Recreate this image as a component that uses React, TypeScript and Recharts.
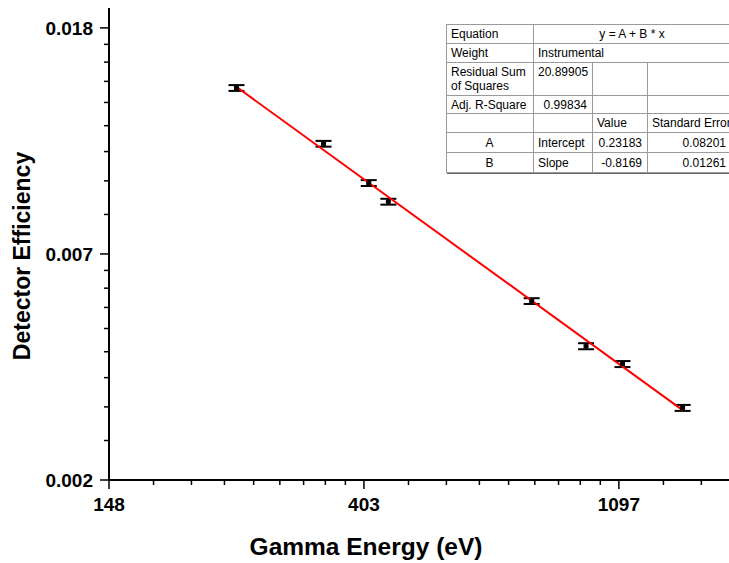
import { ComposedChart, XAxis, YAxis, Scatter, Line, ErrorBar, Customized } from 'recharts'

// Eu-152 calibration lines and measured efficiencies
const ENERGY = [244.7, 344.3, 411.1, 444.0, 778.9, 964.1, 1112.1, 1408.0]
const EFFICIENCY = [0.01404, 0.01097, 0.00922, 0.00849, 0.00547, 0.00448, 0.00414, 0.00341]
const EFF_ERROR = [0.00018, 0.00014, 0.00012, 0.00011, 0.00007, 0.00006, 0.000055, 0.000045]

// fit of ln(eff) = A + B * ln(E)
const FIT_A = 0.23183
const FIT_B = -0.8169

const X_MAJOR_EXP = [5, 6, 7]
const X_TICK_LABELS = ['148', '403', '1097']
const Y_MAJOR_EXP = [-6, -5, -4]
const Y_TICK_LABELS = ['0.002', '0.007', '0.018']

const X_DOMAIN = [Math.exp(5), 1900]
const Y_DOMAIN = [Math.exp(-6), 0.02]

const FONT = '"Liberation Sans", Arial, sans-serif'

const points = ENERGY.map((energy, i) => ({ energy, eff: EFFICIENCY[i], err: EFF_ERROR[i] }))

const fitEnds = [ENERGY[0], ENERGY[ENERGY.length - 1]]
const fitLine = fitEnds.map(energy => ({ energy, eff: Math.exp(FIT_A + FIT_B * Math.log(energy)) }))

// 8 linear minor ticks inside each e-decade
function withMinor(exps: number[], lo: number, hi: number) {
  const out: number[] = []
  exps.forEach(e => {
    const a = Math.exp(e)
    const b = Math.exp(e + 1)
    out.push(a)
    for (let k = 1; k <= 8; k++) out.push(a + (k * (b - a)) / 9)
  })
  return out.filter(v => v >= lo - 1e-12 && v <= hi)
}

const xMajor = X_MAJOR_EXP.map(e => Math.exp(e))
const yMajor = Y_MAJOR_EXP.map(e => Math.exp(e))
const xTicks = withMinor(X_MAJOR_EXP, X_DOMAIN[0], X_DOMAIN[1])
const yTicks = withMinor(Y_MAJOR_EXP, Y_DOMAIN[0], Y_DOMAIN[1])

const majorIndex = (list: number[], v: number) => list.findIndex(m => Math.abs(m - v) / m < 1e-9)

function XTick({ x, y, payload }: any) {
  const i = majorIndex(xMajor, payload.value)
  return (
    <g>
      <line x1={x} x2={x} y1={y} y2={y + (i >= 0 ? 9 : 5)} stroke="#000" strokeWidth={1.5} />
      {i >= 0 && (
        <text x={x} y={y + 31} textAnchor="middle" fontFamily={FONT} fontWeight="bold" fontSize={19} fill="#000">
          {X_TICK_LABELS[i]}
        </text>
      )}
    </g>
  )
}

function YTick({ x, y, payload }: any) {
  const i = majorIndex(yMajor, payload.value)
  return (
    <g>
      <line x1={x - (i >= 0 ? 9 : 5)} x2={x} y1={y} y2={y} stroke="#000" strokeWidth={1.5} />
      {i >= 0 && (
        <text x={x - 16} y={y + 7} textAnchor="end" fontFamily={FONT} fontWeight="bold" fontSize={19} fill="#000">
          {Y_TICK_LABELS[i]}
        </text>
      )}
    </g>
  )
}

function Marker({ cx, cy }: any) {
  return <rect x={cx - 2.5} y={cy - 2} width={5} height={4} fill="#000" />
}

function AxisTitles() {
  return (
    <g fontFamily={FONT} fontWeight="bold" fill="#000">
      <text x={366} y={555} textAnchor="middle" fontSize={24.5}>Gamma Energy (eV)</text>
      <text x={30} y={256} textAnchor="middle" fontSize={23} transform="rotate(-90 30 256)">Detector Efficiency</text>
    </g>
  )
}

// fit results box
const COL_W = [87, 59, 55, 84]
const ROW_H = [19, 19, 33, 18, 19, 20, 20]

type Cell = { t: string; span?: number; align?: 'left' | 'right' | 'center'; top?: boolean }
const FIT_TABLE: Cell[][] = [
  [{ t: 'Equation' }, { t: 'y = A + B * x', span: 3, align: 'center' }],
  [{ t: 'Weight' }, { t: 'Instrumental', span: 3 }],
  [{ t: 'Residual Sum of Squares', top: true }, { t: '20.89905', align: 'right', top: true }, { t: '' }, { t: '' }],
  [{ t: 'Adj. R-Square' }, { t: '0.99834', align: 'right' }, { t: '' }, { t: '' }],
  [{ t: '' }, { t: '' }, { t: 'Value' }, { t: 'Standard Error' }],
  [{ t: 'A', align: 'center' }, { t: 'Intercept' }, { t: '0.23183', align: 'right' }, { t: '0.08201', align: 'right' }],
  [{ t: 'B', align: 'center' }, { t: 'Slope' }, { t: '-0.8169', align: 'right' }, { t: '0.01261', align: 'right' }],
]

function FitTable() {
  return (
    <table
      style={{
        position: 'absolute',
        left: 446,
        top: 24,
        borderCollapse: 'collapse',
        tableLayout: 'fixed',
        width: COL_W.reduce((a, b) => a + b, 0),
        fontFamily: FONT,
        fontSize: 12,
        color: '#000',
        background: '#fff',
        border: '1.5px solid #222',
        boxShadow: '1px 1px 0 #666',
      }}
    >
      <colgroup>
        {COL_W.map((w, i) => (
          <col key={i} style={{ width: w }} />
        ))}
      </colgroup>
      <tbody>
        {FIT_TABLE.map((row, r) => (
          <tr key={r} style={{ height: ROW_H[r] }}>
            {row.map((c, k) => (
              <td
                key={k}
                colSpan={c.span ?? 1}
                style={{
                  border: '1px solid #9a9a9a',
                  padding: c.top ? '2px 5px 0 4px' : '0 5px 0 4px',
                  textAlign: c.align ?? 'left',
                  verticalAlign: c.top ? 'top' : 'middle',
                  lineHeight: '14px',
                  whiteSpace: c.top ? 'normal' : 'nowrap',
                  overflow: 'hidden',
                }}
              >
                {c.t}
              </td>
            ))}
          </tr>
        ))}
      </tbody>
    </table>
  )
}

export default function App() {
  return (
    <div style={{ position: 'absolute', left: 0, top: 0, width: 729, height: 563, overflow: 'hidden', background: '#fff' }}>
      <ComposedChart width={759} height={563} margin={{ top: 8, right: 0, bottom: 0, left: 0 }}>
        <XAxis
          type="number"
          dataKey="energy"
          scale="log"
          domain={X_DOMAIN}
          allowDataOverflow
          ticks={xTicks}
          interval={0}
          tick={<XTick />}
          tickLine={false}
          tickSize={0}
          tickMargin={0}
          height={83}
          axisLine={{ stroke: '#000', strokeWidth: 2 }}
        />
        <YAxis
          type="number"
          scale="log"
          domain={Y_DOMAIN}
          allowDataOverflow
          ticks={yTicks}
          interval={0}
          tick={<YTick />}
          tickLine={false}
          tickSize={0}
          tickMargin={0}
          width={109}
          axisLine={{ stroke: '#000', strokeWidth: 2 }}
        />
        <Scatter data={points} dataKey="eff" fill="#000" shape={<Marker />} isAnimationActive={false}>
          <ErrorBar dataKey="err" direction="y" width={8} stroke="#000" strokeWidth={2} isAnimationActive={false} />
        </Scatter>
        <Line
          data={fitLine}
          dataKey="eff"
          type="linear"
          stroke="#ff0000"
          strokeWidth={2}
          dot={false}
          activeDot={false}
          isAnimationActive={false}
        />
        <Customized component={<AxisTitles />} />
      </ComposedChart>
      <FitTable />
    </div>
  )
}
